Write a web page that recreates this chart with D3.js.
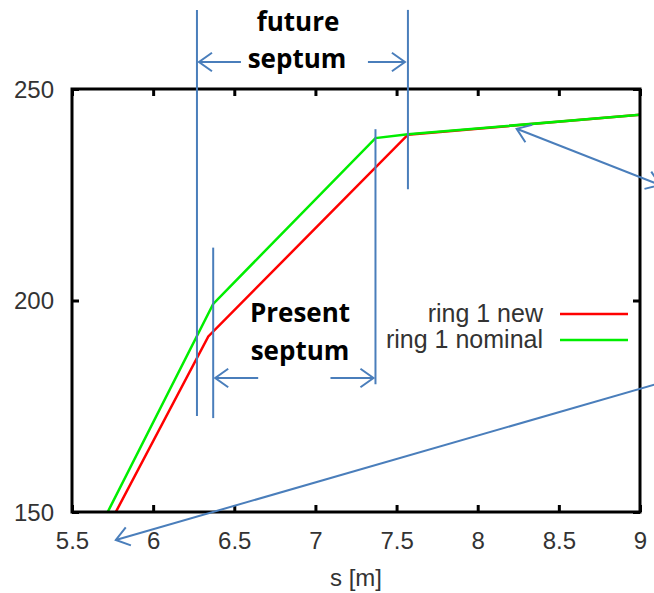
<!DOCTYPE html>
<html>
<head>
<meta charset="utf-8">
<script src="https://cdn.jsdelivr.net/npm/d3@7"></script>
<style>
  body { margin: 0; background: #fff; }
  svg { display: block; }
</style>
</head>
<body>
<svg id="chart" width="654" height="593"></svg>
<script>
// series (s in m, value)
const ringNewS = [5.77, 6.34, 7.57, 9.0];
const ringNewV = [150, 191.5, 239.2, 243.9];
const ringNomS = [5.72, 6.37, 7.37, 7.57, 9.0];
const ringNomV = [150, 199.2, 238.4, 239.3, 243.9];

const xTicks = [5.5, 6, 6.5, 7, 7.5, 8, 8.5, 9];
const yTicks = [150, 200, 250];
const seriesNames = ["ring 1 new", "ring 1 nominal"];
const seriesColors = ["#ff0000", "#00ee00"];

// septum markers (s positions)
const futureSeptum = [6.27, 7.57];
const presentSeptum = [6.37, 7.37];

const svg = d3.select("#chart");
const x = d3.scaleLinear().domain([5.5, 9]).range([72, 640]);
const y = d3.scaleLinear().domain([150, 250]).range([512, 89]);
const blue = "#4a7ebb";
const font = "Liberation Sans, Arial, sans-serif";

// series lines
const line = d3.line().x(d => x(d[0])).y(d => y(d[1]));
const seriesData = [
  d3.zip(ringNewS, ringNewV),
  d3.zip(ringNomS, ringNomV)
];
seriesData.forEach((pts, i) => {
  svg.append("path")
    .attr("d", line(pts))
    .attr("fill", "none")
    .attr("stroke", seriesColors[i])
    .attr("stroke-width", 2.5);
});

// frame
svg.append("rect")
  .attr("x", x(5.5)).attr("y", y(250))
  .attr("width", x(9) - x(5.5)).attr("height", y(150) - y(250))
  .attr("fill", "none").attr("stroke", "#000").attr("stroke-width", 3);

// axes, ticks inward
const xAxis = svg.append("g").attr("transform", `translate(0,${y(150)})`)
  .call(d3.axisBottom(x).tickValues(xTicks).tickSize(-7).tickPadding(20).tickFormat(d3.format("")));
const xAxisTop = svg.append("g").attr("transform", `translate(0,${y(250)})`)
  .call(d3.axisTop(x).tickValues(xTicks).tickSize(-7).tickFormat(""));
const yAxis = svg.append("g").attr("transform", `translate(${x(5.5)},0)`)
  .call(d3.axisLeft(y).tickValues(yTicks).tickSize(-7).tickPadding(18));
const yAxisRight = svg.append("g").attr("transform", `translate(${x(9)},0)`)
  .call(d3.axisRight(y).tickValues(yTicks).tickSize(-7).tickFormat(""));

[xAxis, xAxisTop, yAxis, yAxisRight].forEach(g => {
  g.attr("font-size", null).attr("font-family", null);
  g.select(".domain").remove();
  g.selectAll(".tick line").attr("stroke", "#000").attr("stroke-width", 3);
  g.selectAll(".tick text")
    .attr("font-family", font)
    .attr("font-size", 24)
    .attr("fill", "#333");
});
yAxis.selectAll(".tick text").attr("dy", "0.35em");

svg.append("text")
  .attr("x", 356).attr("y", 586)
  .attr("text-anchor", "middle")
  .attr("font-family", font)
  .attr("font-size", 24).attr("fill", "#333")
  .text("s [m]");

// legend
seriesNames.forEach((name, i) => {
  const ly = 314 + i * 26;
  svg.append("text")
    .attr("x", 543).attr("y", ly + 8)
    .attr("text-anchor", "end")
    .attr("font-family", font)
    .attr("font-size", 25).attr("fill", "#333")
    .text(name);
  svg.append("line")
    .attr("x1", 560).attr("x2", 628).attr("y1", ly).attr("y2", ly)
    .attr("stroke", seriesColors[i]).attr("stroke-width", 2.5);
});

// annotations
const ann = svg.append("g").attr("stroke", blue).attr("fill", "none").attr("stroke-width", 2);

function vline(s, v1, v2) {
  ann.append("line").attr("x1", x(s)).attr("x2", x(s)).attr("y1", y(v1)).attr("y2", y(v2));
}
function arrow(x1, y1, x2, y2, heads) {
  ann.append("line").attr("x1", x1).attr("y1", y1).attr("x2", x2).attr("y2", y2);
  const head = (tx, ty, fx, fy) => {
    const a = Math.atan2(fy - ty, fx - tx), len = 16, sp = 0.62;
    ann.append("polyline").attr("points", [
      [tx + len * Math.cos(a + sp), ty + len * Math.sin(a + sp)],
      [tx, ty],
      [tx + len * Math.cos(a - sp), ty + len * Math.sin(a - sp)]
    ].map(p => p.join(",")).join(" "));
  };
  if (heads.includes("end")) head(x2, y2, x1, y1);
  if (heads.includes("start")) head(x1, y1, x2, y2);
}

vline(futureSeptum[0], 268.7, 172.7);
vline(futureSeptum[1], 268.7, 226.3);
vline(presentSeptum[0], 212.5, 172.2);
vline(presentSeptum[1], 240.5, 180.2);

const fy = 62, py = 378;
arrow(x(futureSeptum[0]) + 44, fy, x(futureSeptum[0]) + 2, fy, ["end"]);
arrow(x(futureSeptum[1]) - 40, fy, x(futureSeptum[1]) - 3, fy, ["end"]);
arrow(x(presentSeptum[0]) + 45, py, x(presentSeptum[0]) + 2, py, ["end"]);
arrow(x(presentSeptum[1]) - 45, py, x(presentSeptum[1]) - 2, py, ["end"]);

arrow(x(8.24), y(240.6), 660, 185, ["start", "end"]);
arrow(660, 383, x(5.77), 540, ["end"]);

[["future", 298, 31], ["septum", 297, 68], ["Present", 300, 322], ["septum", 300, 360]].forEach(([t, tx, ty]) => {
  svg.append("text").attr("x", tx).attr("y", ty)
    .attr("text-anchor", "middle").attr("fill", "#000")
    .attr("font-family", "Open Sans, Liberation Sans, sans-serif")
    .attr("font-size", 26).attr("font-weight", "bold")
    .text(t);
});
</script>
</body>
</html>
